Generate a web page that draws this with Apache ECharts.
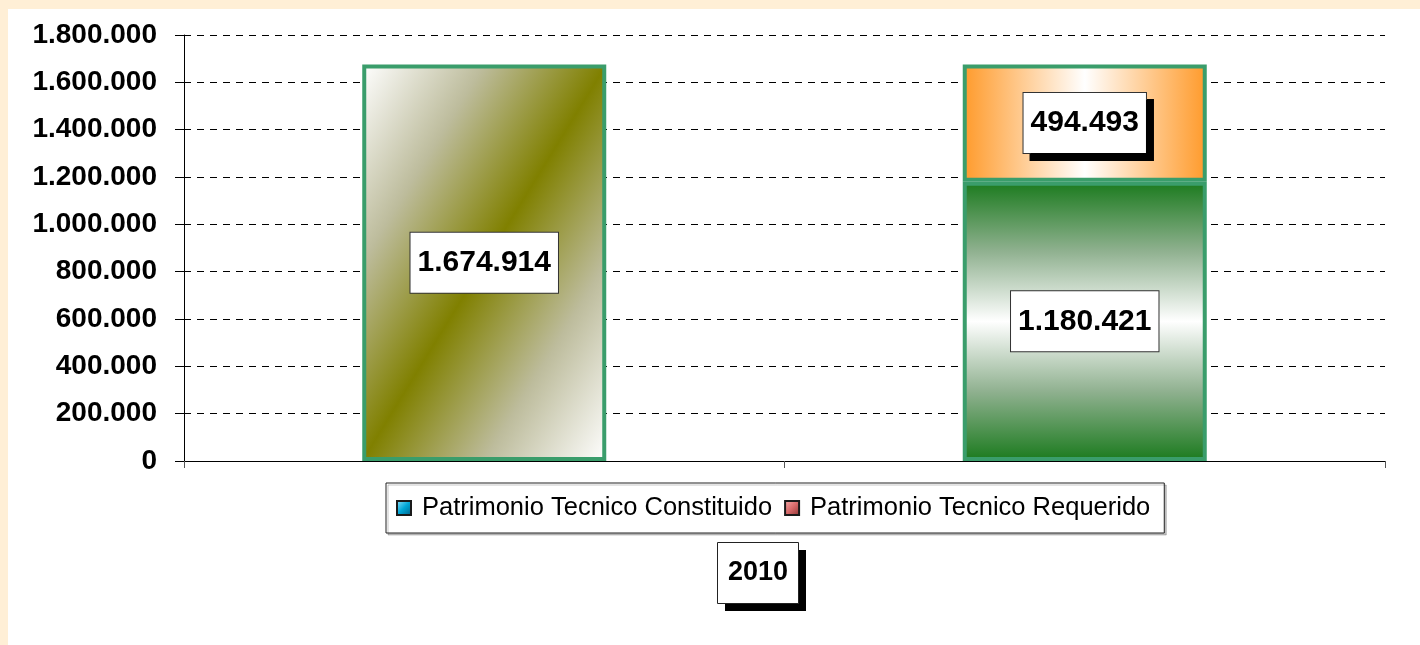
<!DOCTYPE html>
<html>
<head>
<meta charset="utf-8">
<script src="https://cdn.jsdelivr.net/npm/echarts@6/dist/echarts.min.js"></script>
<style>
    html, body { margin: 0; padding: 0; background: #FFEFD6; }
    #panel { position: absolute; left: 8px; top: 9px; width: 1412px; height: 636px; background: #fff; }
    #chart { position: absolute; left: 0; top: 0; width: 1420px; height: 645px; }
</style>
</head>
<body>
<div id="panel"></div>
<div id="chart"></div>
<script>
// valores
var categorias = ['Constituido', 'Requerido'];
var constituido = [1674914, 1180421];
var requerido = ['-', 494493];
var tituloEje = '2010';
var yMin = 0, yMax = 1800000, yPaso = 200000;

function puntos(v) {
    return String(Math.round(v)).replace(/\B(?=(\d{3})+(?!\d))/g, '.');
}

var fuente = 'Liberation Sans, Arial, sans-serif';
var bordeBarra = '#3A9D6B';

var olivo = {
    type: 'linear', x: -0.225, y: 0.225, x2: 1.225, y2: 0.775,
    colorStops: [
        { offset: 0, color: '#ffffff' },
        { offset: 0.25, color: '#bdbc9c' },
        { offset: 0.5, color: '#808000' },
        { offset: 0.75, color: '#bdbc9c' },
        { offset: 1, color: '#ffffff' }
    ]
};
var verde = {
    type: 'linear', x: 0, y: 0, x2: 0, y2: 1,
    colorStops: [
        { offset: 0, color: '#1a7a1d' },
        { offset: 0.25, color: '#90b190' },
        { offset: 0.5, color: '#ffffff' },
        { offset: 0.75, color: '#90b190' },
        { offset: 1, color: '#1a7a1d' }
    ]
};
var naranja = {
    type: 'linear', x: 0, y: 0, x2: 1, y2: 0,
    colorStops: [
        { offset: 0, color: '#ff9a2a' },
        { offset: 0.5, color: '#ffffff' },
        { offset: 1, color: '#ff9a2a' }
    ]
};

var etiqueta = {
    show: true,
    position: 'inside',
    formatter: function (p) { return puntos(p.value); },
    fontFamily: fuente,
    fontWeight: 'bold',
    fontSize: 30,
    lineHeight: 32,
    color: '#000',
    backgroundColor: '#fff',
    borderColor: '#333',
    borderWidth: 1,
    padding: [14, 7]
};

var chart = echarts.init(document.getElementById('chart'));

var option = {
    animation: false,
    backgroundColor: 'transparent',
    graphic: [{
        type: 'group',
        left: 717,
        top: 542,
        children: [
            { type: 'rect', shape: { x: 8, y: 8, width: 81, height: 61 }, style: { fill: '#000' } },
            { type: 'rect', shape: { x: 0.5, y: 0.5, width: 81, height: 61 }, style: { fill: '#fff', stroke: '#222', lineWidth: 1 } },
            {
                type: 'text', x: 41, y: 31,
                style: {
                    text: tituloEje, align: 'center', verticalAlign: 'middle',
                    fontFamily: fuente, fontWeight: 'bold', fontSize: 27, fill: '#000'
                }
            }
        ]
    }],
    legend: {
        left: 386,
        top: 483,
        orient: 'horizontal',
        itemWidth: 14,
        itemHeight: 14,
        itemGap: 12,
        icon: 'rect',
        padding: [12, 14, 12, 10],
        borderColor: '#222',
        borderWidth: 1,
        shadowColor: 'rgba(0,0,0,0.22)',
        shadowBlur: 0,
        shadowOffsetX: 2,
        shadowOffsetY: 2,
        backgroundColor: '#fff',
        textStyle: {
            fontFamily: fuente,
            fontSize: 25.5,
            color: '#000',
            padding: [0, 0, 0, 6]
        },
        data: ['Patrimonio Tecnico Constituido', 'Patrimonio Tecnico Requerido']
    },
    grid: { left: 184, right: 35, top: 35, bottom: 184, containLabel: false },
    xAxis: {
        type: 'category',
        data: categorias,
        boundaryGap: true,
        axisLine: { show: true, lineStyle: { color: '#000', width: 1 } },
        axisTick: { show: true, length: 7, alignWithLabel: false, lineStyle: { color: '#555' } },
        axisLabel: { show: false },
        splitLine: { show: false }
    },
    yAxis: {
        type: 'value',
        min: yMin,
        max: yMax,
        interval: yPaso,
        axisLine: { show: true, lineStyle: { color: '#000', width: 1 } },
        axisTick: { show: true, length: 9, lineStyle: { color: '#000' } },
        axisLabel: {
            margin: 27,
            formatter: function (v) { return puntos(v); },
            fontFamily: fuente,
            fontWeight: 'bold',
            fontSize: 28,
            color: '#000'
        },
        splitLine: { show: true, lineStyle: { color: '#000', width: 1, type: [7, 6] } }
    },
    series: [
        {
            name: 'Patrimonio Tecnico Constituido',
            type: 'bar',
            stack: 'total',
            barWidth: 244,
            itemStyle: {
                color: {
                    type: 'linear', x: 0, y: 0, x2: 1, y2: 1,
                    colorStops: [{ offset: 0, color: '#9be6ff' }, { offset: 0.5, color: '#00a6d6' }, { offset: 1, color: '#005a80' }]
                },
                borderColor: '#1a1a1a',
                borderWidth: 1
            },
            label: etiqueta,
            data: constituido.map(function (v, i) {
                return {
                    value: v,
                    itemStyle: { color: i === 0 ? olivo : verde, borderColor: bordeBarra, borderWidth: 4 }
                };
            })
        },
        {
            name: 'Patrimonio Tecnico Requerido',
            type: 'bar',
            stack: 'total',
            barWidth: 244,
            itemStyle: {
                color: {
                    type: 'linear', x: 0, y: 0, x2: 1, y2: 1,
                    colorStops: [{ offset: 0, color: '#f7b0b0' }, { offset: 0.5, color: '#d86a6a' }, { offset: 1, color: '#8a3030' }]
                },
                borderColor: '#1a1a1a',
                borderWidth: 1
            },
            label: Object.assign({}, etiqueta, {
                shadowColor: '#000',
                shadowBlur: 0,
                shadowOffsetX: 7,
                shadowOffsetY: 7
            }),
            data: requerido.map(function (v) {
                return {
                    value: v,
                    itemStyle: { color: naranja, borderColor: bordeBarra, borderWidth: 4 }
                };
            })
        }
    ]
};

chart.setOption(option);
</script>
</body>
</html>
